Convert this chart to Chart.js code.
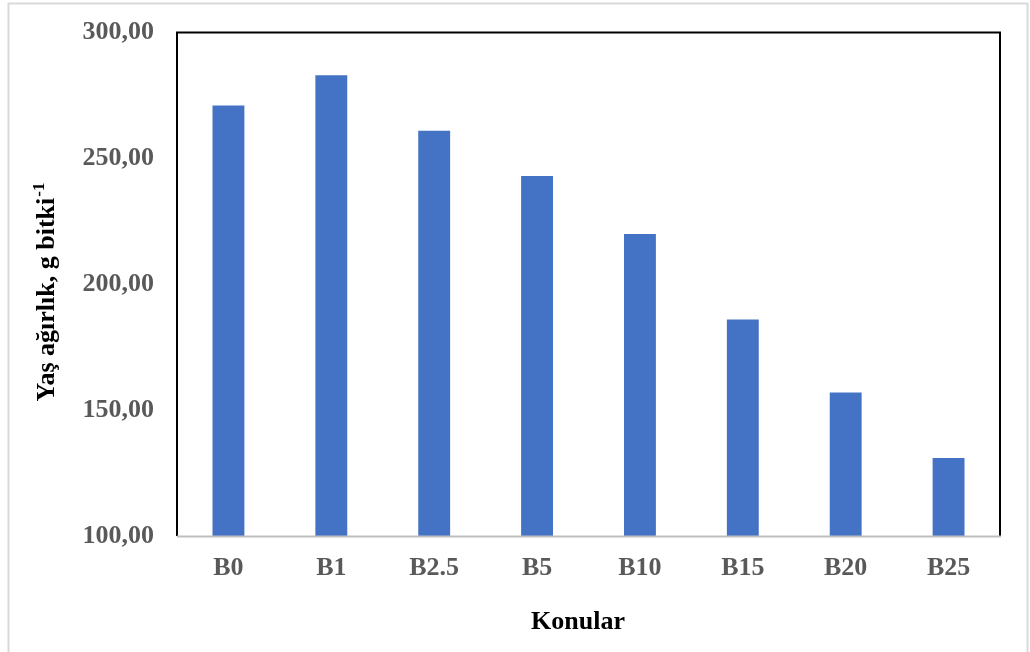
<!DOCTYPE html>
<html>
<head>
<meta charset="utf-8">
<script src="https://cdn.jsdelivr.net/npm/chart.js@4.4.1/dist/chart.umd.min.js"></script>
<style>
  html, body { margin: 0; padding: 0; background: #ffffff; }
  #wrap { width: 1030px; height: 652px; position: relative; }
</style>
</head>
<body>
<div id="wrap"><canvas id="chart" width="1030" height="652"></canvas></div>
<script>
// Treatments and fresh weight per plant (g)
const categories = ['B0', 'B1', 'B2.5', 'B5', 'B10', 'B15', 'B20', 'B25'];
const freshWeight = [271, 283, 261, 243, 220, 186, 157, 131];
const yTicks = [100, 150, 200, 250, 300];

const xTitle = 'Konular';
const yTitle = 'Yaş ağırlık, g bitki';
const yTitleSup = '-1';

const FONT = '"Liberation Serif", "Times New Roman", serif';

// Frame around the whole figure, box around the plot area, axis titles
const decorations = {
  id: 'decorations',
  beforeDraw(chart) {
    const ctx = chart.ctx;
    ctx.save();
    ctx.fillStyle = '#ffffff';
    ctx.fillRect(0, 0, chart.width, chart.height);
    ctx.strokeStyle = '#d9d9d9';
    ctx.lineWidth = 2;
    ctx.beginPath();
    ctx.moveTo(8.5, chart.height + 2);
    ctx.lineTo(8.5, 3.5);
    ctx.lineTo(1027.5, 3.5);
    ctx.lineTo(1027.5, chart.height + 2);
    ctx.stroke();
    ctx.restore();
  },
  afterDraw(chart) {
    const ctx = chart.ctx;
    const a = chart.chartArea;
    ctx.save();
    // top, right and left edges of the plot box
    ctx.strokeStyle = '#000000';
    ctx.lineWidth = 2;
    ctx.beginPath();
    ctx.moveTo(a.left, a.bottom);
    ctx.lineTo(a.left, a.top);
    ctx.lineTo(a.right, a.top);
    ctx.lineTo(a.right, a.bottom);
    ctx.stroke();
    // category axis line
    ctx.strokeStyle = '#bfbfbf';
    ctx.beginPath();
    ctx.moveTo(a.left, a.bottom + 0.5);
    ctx.lineTo(a.right + 1, a.bottom + 0.5);
    ctx.stroke();

    // x axis title
    ctx.fillStyle = '#000000';
    ctx.font = 'bold 26px ' + FONT;
    ctx.textAlign = 'center';
    ctx.textBaseline = 'alphabetic';
    ctx.fillText(xTitle, 578, 629);

    // y axis title, rotated, with superscript
    ctx.translate(54, 292);
    ctx.rotate(-Math.PI / 2);
    ctx.font = 'bold 26px ' + FONT;
    const mainW = ctx.measureText(yTitle).width;
    ctx.font = 'bold 17px ' + FONT;
    const supW = ctx.measureText(yTitleSup).width;
    const total = mainW + supW + 1;
    ctx.textAlign = 'left';
    ctx.font = 'bold 26px ' + FONT;
    ctx.fillText(yTitle, -total / 2, 0);
    ctx.font = 'bold 17px ' + FONT;
    ctx.fillText(yTitleSup, -total / 2 + mainW + 1, -10);
    ctx.restore();
  }
};

new Chart(document.getElementById('chart'), {
  type: 'bar',
  data: {
    labels: categories,
    datasets: [{
      data: freshWeight,
      backgroundColor: '#4472c4',
      borderWidth: 0,
      barPercentage: 0.62,
      categoryPercentage: 0.5
    }]
  },
  options: {
    responsive: false,
    animation: false,
    devicePixelRatio: 1,
    layout: { padding: { left: 0, top: 32.5, right: 30, bottom: 0 } },
    plugins: {
      legend: { display: false },
      tooltip: { enabled: false }
    },
    scales: {
      x: {
        grid: { display: false, drawTicks: false },
        border: { display: false },
        ticks: {
          color: '#595959',
          font: { family: FONT, size: 26, weight: 'bold' },
          padding: 17,
          maxRotation: 0
        },
        afterFit(scale) {
          scale.height = 116;
          scale.paddingLeft = 0;
          scale.paddingRight = 0;
        }
      },
      y: {
        min: 100,
        max: 300,
        grid: { display: false, drawTicks: false },
        border: { display: false },
        afterBuildTicks(scale) {
          scale.ticks = yTicks.map(v => ({ value: v }));
        },
        ticks: {
          color: '#595959',
          font: { family: FONT, size: 26, weight: 'bold' },
          padding: 23,
          callback: v => Number(v).toFixed(2).replace('.', ',')
        },
        afterFit(scale) {
          scale.width = 177;
          scale.paddingTop = 0;
          scale.paddingBottom = 0;
        }
      }
    }
  },
  plugins: [decorations]
});
</script>
</body>
</html>
